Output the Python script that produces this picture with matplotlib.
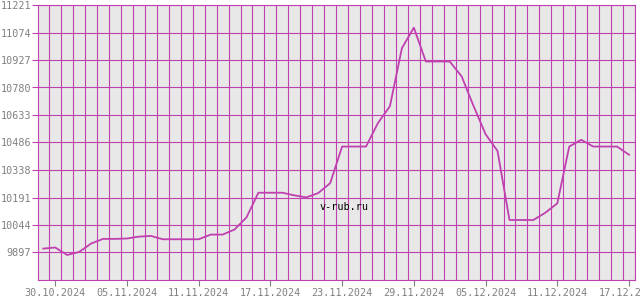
#!/usr/bin/env python3

import numpy as np
import datetime as dt
import matplotlib
matplotlib.use("Agg")
import matplotlib.pyplot as plt
import matplotlib.dates as mdates

start = dt.datetime(2024, 10, 29)
rates = [9918, 9924, 9884, 9900, 9945, 9970, 9970, 9972, 9982, 9986,
         9968, 9968, 9968, 9968, 9993, 9993, 10020, 10085, 10217, 10217,
         10217, 10203, 10192, 10215, 10268, 10464, 10464, 10464, 10590, 10680,
         10990, 11100, 10919, 10919, 10919, 10839, 10680, 10530, 10440, 10071,
         10071, 10071, 10110, 10160, 10464, 10500, 10464, 10464, 10464, 10420]
days = [start + dt.timedelta(days=i) for i in range(len(rates))]

ymin = 9750.1
ymax = 11221.1
yticks = np.linspace(ymin, ymax, 11)[1:]

lc = "#c040b0"
tc = "#808080"

fig = plt.figure(figsize=(6.4, 3.0), dpi=100)
ax = fig.add_axes([38/640, 20/300, 597/640, 275/300])
ax.set_facecolor("#e8e8e8")

x0 = mdates.date2num(dt.datetime(2024, 10, 30))
ax.set_xlim(x0 - 1.44, x0 + 48.5)
ax.set_ylim(ymin, ymax)

ax.set_xticks([x0 + 6*k for k in range(9)])
ax.set_xticks(x0 - 0.5 + np.arange(0, 50), minor=True)
ax.xaxis.set_major_formatter(mdates.DateFormatter("%d.%m.%Y"))
ax.set_yticks(yticks)
ax.set_yticklabels(["{0:.0f}".format(v) for v in yticks])

ax.grid(which="minor", axis="x", color=lc, lw=0.8)
ax.grid(which="major", axis="y", color=lc, lw=0.8)
ax.set_axisbelow(True)

ax.tick_params(axis="x", which="major", length=4, width=0.8, color=tc,
               labelcolor=tc, labelsize=7.3, pad=2)
ax.tick_params(axis="x", which="minor", length=0)
ax.tick_params(axis="y", length=4, width=0.8, color=lc, labelcolor=tc,
               labelsize=7.3, pad=1)
for lab in ax.get_xticklabels() + ax.get_yticklabels():
  lab.set_family("DejaVu Sans Mono")

for s in ax.spines.values():
  s.set_color(lc)
  s.set_linewidth(0.8)

ax.plot(days, rates, color=lc, lw=1.3)

ax.text(0.512, 0.265, "v-rub.ru", transform=ax.transAxes, ha="center", va="center",
        fontsize=7.3, family="DejaVu Sans Mono", color="black")

plt.savefig("out.png", dpi=100)
plt.close()
